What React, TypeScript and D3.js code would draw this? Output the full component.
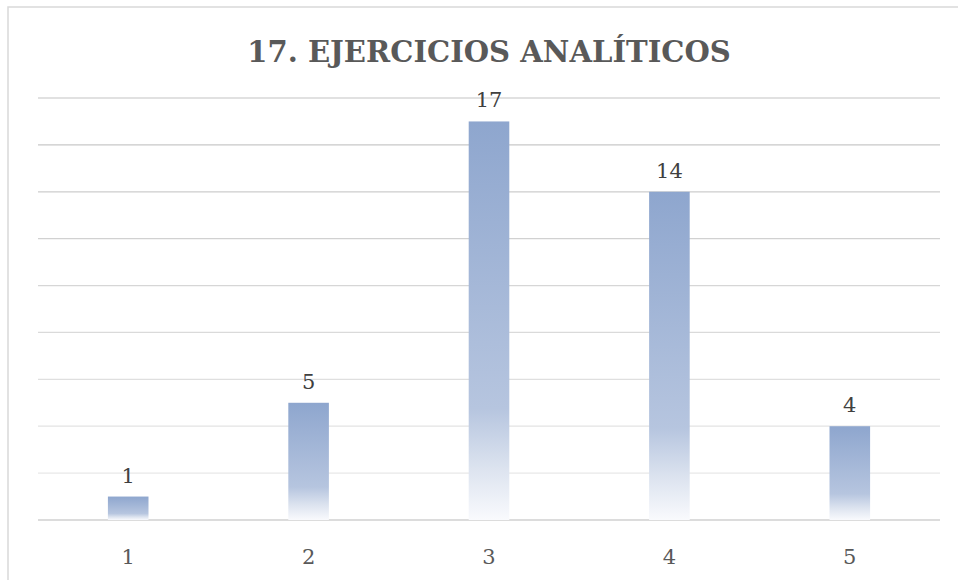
import React from "react";
import * as d3 from "d3";

const categories = ["1", "2", "3", "4", "5"];
const values = [1, 5, 17, 14, 4];
const yTicks = [0, 2, 4, 6, 8, 10, 12, 14, 16, 18];
const title = "17. EJERCICIOS ANALÍTICOS";

const FONT = "'DejaVu Serif', serif";

export default function App() {
  const W = 958, H = 580;
  const left = 38, right = 940, top = 98, bottom = 520;
  const x = d3.scaleBand<string>().domain(categories).range([left, right]).paddingInner(0.775).paddingOuter(0.3875);
  const y = d3.scaleLinear().domain([0, 18]).range([bottom, top]);
  const gridColor = d3.scaleLinear<string>().domain([18, 0]).range(["#c4c4c4", "#ececec"]);
  return (
    <svg width={W} height={H} style={{ position: "absolute", left: 0, top: 0, fontFamily: FONT }}>
      <defs>
        <linearGradient id="barGrad" x1="0" y1="0" x2="0" y2="1">
          <stop offset="0" stopColor="#8ea6ce" />
          <stop offset="0.72" stopColor="#b6c5df" />
          <stop offset="0.87" stopColor="#dce3ef" />
          <stop offset="1" stopColor="#f9fafd" />
        </linearGradient>
      </defs>
      <rect x={0} y={0} width={W} height={H} fill="#ffffff" />
      <rect x={8} y={7} width={W} height={H} fill="none" stroke="#d9d9d9" strokeWidth={1.5} />
      <g transform="translate(489,62) scale(0.97,1)">
        <text x={0} y={0} textAnchor="middle" fontSize={30} fontWeight="bold" fill="#595959">{title}</text>
      </g>
      {yTicks.map((t) => (
        <line key={t} x1={left} x2={right} y1={y(t)} y2={y(t)} stroke={t === 0 ? "#d0d0d0" : gridColor(t)} strokeWidth={t === 0 ? 1.5 : 1.2} />
      ))}
      {values.map((v, i) => (
        <g key={i}>
          <rect x={x(categories[i])} y={y(v)} width={x.bandwidth()} height={y(0) - y(v)} fill="url(#barGrad)" />
          <text x={(x(categories[i]) as number) + x.bandwidth() / 2} y={y(v) - 14} textAnchor="middle" fontSize={21} fill="#404040">{v}</text>
        </g>
      ))}
      {categories.map((c) => (
        <text key={c} x={(x(c) as number) + x.bandwidth() / 2} y={564} textAnchor="middle" fontSize={21} fill="#595959">{c}</text>
      ))}
    </svg>
  );
}
